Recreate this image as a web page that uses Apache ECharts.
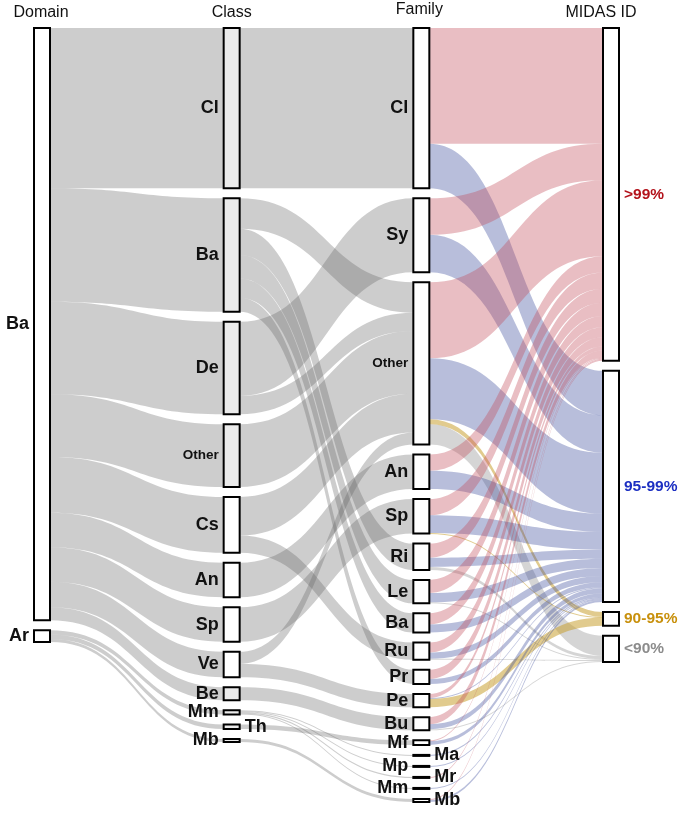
<!DOCTYPE html>
<html><head><meta charset="utf-8">
<script src="https://cdn.jsdelivr.net/npm/echarts@6/dist/echarts.min.js"></script>
<style>html,body{margin:0;padding:0;background:#fff}#c{width:685px;height:817px}</style>
</head><body><div id="c"></div>
<script>
const columnTitles = ['Domain', 'Class', 'Family', 'MIDAS ID'];
const domainNodes = ['Ba', 'Ar'];
const classNodes = ['Cl', 'Ba', 'De', 'Other', 'Cs', 'An', 'Sp', 'Ve', 'Be', 'Mm', 'Th', 'Mb'];
const familyNodes = ['Cl', 'Sy', 'Other', 'An', 'Sp', 'Ri', 'Le', 'Ba', 'Ru', 'Pr', 'Pe', 'Bu', 'Mf', 'Ma', 'Mp', 'Mr', 'Mm', 'Mb'];
const midasNodes = ['>99%', '95-99%', '90-95%', '<90%'];

// [source, target, value]
const domainClassLinks = [
  ['Ba', 'Cl', 158], ['Ba', 'Ba', 112], ['Ba', 'De', 91], ['Ba', 'Other', 62], ['Ba', 'Cs', 55],
  ['Ba', 'An', 34], ['Ba', 'Sp', 34], ['Ba', 'Ve', 25], ['Ba', 'Be', 13],
  ['Ar', 'Mm', 4], ['Ar', 'Th', 4.5], ['Ar', 'Mb', 3]
];
const classFamilyLinks = [
  ['Cl', 'Cl', 158],
  ['Ba', 'Other', 30], ['Ba', 'Ri', 26], ['Ba', 'Le', 23], ['Ba', 'Ba', 19], ['Ba', 'Pr', 14],
  ['De', 'Sy', 73], ['De', 'Other', 18],
  ['Other', 'Other', 62],
  ['Cs', 'Other', 38], ['Cs', 'Ru', 17],
  ['An', 'An', 34],
  ['Sp', 'Sp', 34],
  ['Ve', 'Other', 12], ['Ve', 'Pe', 13],
  ['Be', 'Bu', 13],
  ['Mm', 'Ma', 1], ['Mm', 'Mp', 1], ['Mm', 'Mr', 1], ['Mm', 'Mm', 1],
  ['Th', 'Mf', 4.5],
  ['Mb', 'Mb', 3]
];
const familyMidasLinks = [
  ['Cl', '>99%', 114], ['Cl', '95-99%', 44],
  ['Sy', '>99%', 36], ['Sy', '95-99%', 37],
  ['Other', '>99%', 75], ['Other', '95-99%', 60], ['Other', '90-95%', 5], ['Other', '<90%', 20],
  ['An', '>99%', 16], ['An', '95-99%', 18],
  ['Sp', '>99%', 16], ['Sp', '95-99%', 17.5], ['Sp', '90-95%', 0.5],
  ['Ri', '>99%', 14], ['Ri', '95-99%', 9], ['Ri', '<90%', 3],
  ['Le', '>99%', 13], ['Le', '95-99%', 9], ['Le', '<90%', 1],
  ['Ba', '>99%', 11], ['Ba', '95-99%', 8],
  ['Ru', '>99%', 10], ['Ru', '95-99%', 6], ['Ru', '<90%', 1],
  ['Pr', '>99%', 9], ['Pr', '95-99%', 5],
  ['Pe', '>99%', 4], ['Pe', '95-99%', 1], ['Pe', '90-95%', 8],
  ['Bu', '>99%', 7], ['Bu', '95-99%', 5], ['Bu', '<90%', 1],
  ['Mf', '>99%', 1], ['Mf', '95-99%', 3.5],
  ['Ma', '95-99%', 1], ['Mp', '95-99%', 1], ['Mr', '>99%', 1], ['Mm', '95-99%', 1],
  ['Mb', '>99%', 1], ['Mb', '95-99%', 2]
];

// styling helpers
const shadedClass = ['Cl', 'Ba', 'De', 'Other', 'Be', 'Mm', 'Th', 'Mb'];
const rightLabelFamily = ['Ma', 'Mr', 'Mb'];
const rightLabelClass = ['Th'];
const midasLabelColor = {'>99%': '#b3121b', '95-99%': '#1c2fc2', '90-95%': '#c8900c', '<90%': '#8c8c8c'};
const midasLinkColor = {'>99%': '#c24a58', '95-99%': '#3b4a9c', '90-95%': '#c9a132', '<90%': '#8a8a8a'};

const FONT = '"Liberation Sans", Arial, Helvetica, sans-serif';
const nodes = [];
function addNodes(list, prefix, depth) {
  list.forEach(n => {
    const node = {name: prefix + n, depth: depth, itemStyle: {color: '#fff', borderColor: '#000', borderWidth: 2},
      label: {position: 'left', fontSize: n === 'Other' ? 13.5 : 18}};
    if (prefix === 'C:' && shadedClass.includes(n)) node.itemStyle.color = '#ebebeb';
    if (prefix === 'C:' && rightLabelClass.includes(n)) node.label.position = 'right';
    if (prefix === 'F:' && rightLabelFamily.includes(n)) node.label.position = 'right';
    if (prefix === 'M:') {
      node.label = {position: 'right', fontSize: 15.5, color: midasLabelColor[n]};
    }
    nodes.push(node);
  });
}
addNodes(domainNodes, 'D:', 0);
addNodes(classNodes, 'C:', 1);
addNodes(familyNodes, 'F:', 2);
addNodes(midasNodes, 'M:', 3);

const links = [];
domainClassLinks.forEach(l => links.push({source: 'D:' + l[0], target: 'C:' + l[1], value: l[2]}));
classFamilyLinks.forEach(l => links.push({source: 'C:' + l[0], target: 'F:' + l[1], value: l[2]}));
familyMidasLinks.forEach(l => links.push({source: 'F:' + l[0], target: 'M:' + l[1], value: l[2],
  lineStyle: {color: midasLinkColor[l[1]], opacity: l[1] === '90-95%' ? 0.55 : 0.36}}));

const chart = echarts.init(document.getElementById('c'), null, {renderer: 'canvas'});
const L = 34, R = 66, NW = 16, W = 685 - L - R;
const colX = [0, 1, 2, 3].map(i => L + i * (W - NW) / 3 + NW / 2);
const titleX = [colX[0] - 1, colX[1], colX[2] - 2, colX[3] - 10];
chart.setOption({
  animation: false,
  backgroundColor: '#fff',
  graphic: columnTitles.map((t, i) => ({
    type: 'text', id: 't' + i, x: titleX[i], y: i === 2 ? 2 : 5,
    style: {text: t, font: '16px ' + FONT, fill: '#111', textAlign: 'center', textVerticalAlign: 'top'}
  })),
  series: [{
    type: 'sankey',
    left: L, right: R, top: 28, bottom: 15,
    nodeWidth: NW, nodeGap: 10,
    layoutIterations: 0,
    nodeAlign: 'justify',
    draggable: false,
    emphasis: {disabled: true},
    lineStyle: {color: '#666666', opacity: 0.33, curveness: 0.5},
    label: {fontFamily: FONT, fontWeight: 'bold', color: '#111', distance: 4,
      formatter: p => p.name.slice(2)},
    data: nodes,
    links: links
  }]
});
</script>
</body></html>
